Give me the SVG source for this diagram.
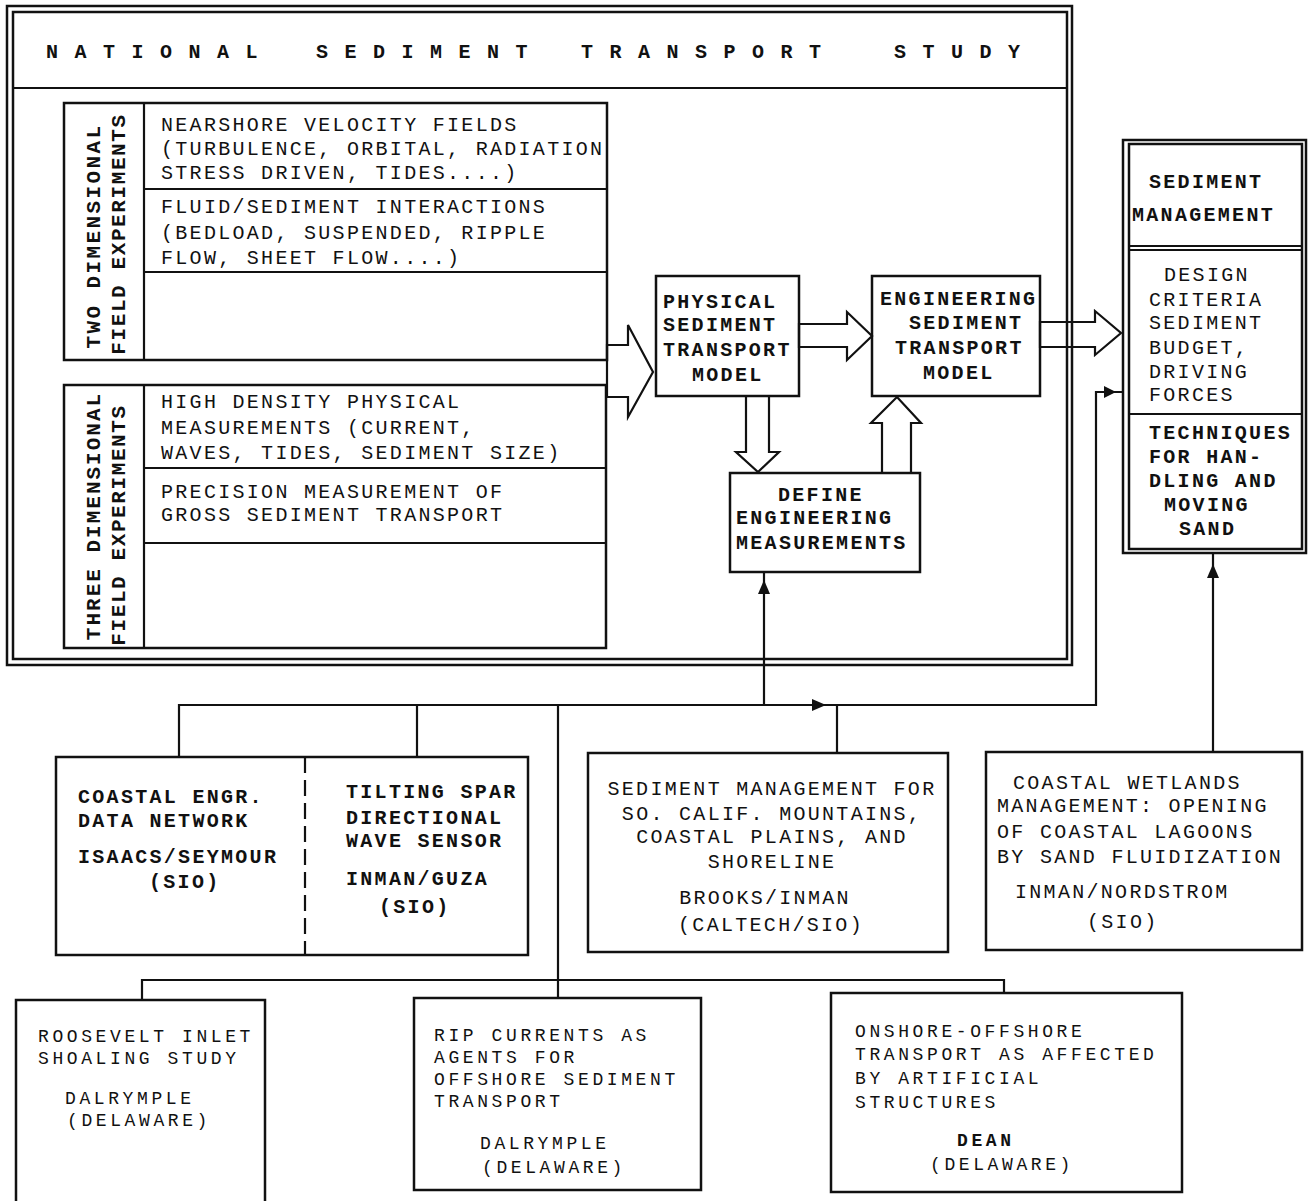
<svg xmlns="http://www.w3.org/2000/svg" width="1310" height="1201" viewBox="0 0 1310 1201">
<style>
text{font-family:"Liberation Mono","DejaVu Sans Mono",monospace;font-size:20px;letter-spacing:2.3px;fill:#111}
.b{font-weight:bold}
.s{font-size:18px;letter-spacing:3.6px}
.ttl{font-weight:bold;letter-spacing:16.5px}
.rot{font-weight:bold;font-size:21px;text-anchor:middle}
.m{text-anchor:middle}
.box{fill:none;stroke:#111;stroke-width:2.5}
.ln{fill:none;stroke:#111;stroke-width:2.2}
.con{fill:none;stroke:#111;stroke-width:2.2}
.harrow{fill:none;stroke:#111;stroke-width:2.2;stroke-linejoin:miter}
.head{fill:#111;stroke:none}
</style>
<rect width="1310" height="1201" fill="#fff"/>

<g id="frame">
<rect class="box" x="7" y="6" width="1065" height="659"/>
<rect class="box" x="13" y="12" width="1054" height="647"/>
<line class="ln" x1="13" y1="88" x2="1067" y2="88"/>
<text class="ttl" x="46" y="58">NATIONAL</text>
<text class="ttl" x="316" y="58">SEDIMENT</text>
<text class="ttl" x="581" y="58">TRANSPORT</text>
<text class="ttl" x="894" y="58">STUDY</text>
</g>

<g id="two-dim">
<rect class="box" x="64" y="103" width="543" height="257"/>
<line class="ln" x1="144" y1="103" x2="144" y2="360"/>
<line class="ln" x1="144" y1="189" x2="607" y2="189"/>
<line class="ln" x1="144" y1="272" x2="607" y2="272"/>
<text class="rot" style="letter-spacing:2.4px" transform="translate(100,236) rotate(-90)">TWO DIMENSIONAL</text>
<text class="rot" style="letter-spacing:1.6px" transform="translate(125,234) rotate(-90)">FIELD EXPERIMENTS</text>
<text x="161" y="131">NEARSHORE VELOCITY FIELDS</text>
<text x="161" y="155">(TURBULENCE, ORBITAL, RADIATION</text>
<text x="161" y="179">STRESS DRIVEN, TIDES....)</text>
<text x="161" y="213">FLUID/SEDIMENT INTERACTIONS</text>
<text x="161" y="239">(BEDLOAD, SUSPENDED, RIPPLE</text>
<text x="161" y="264">FLOW, SHEET FLOW....)</text>
</g>

<g id="three-dim">
<rect class="box" x="64" y="385" width="542" height="263"/>
<line class="ln" x1="144" y1="385" x2="144" y2="648"/>
<line class="ln" x1="144" y1="468" x2="606" y2="468"/>
<line class="ln" x1="144" y1="543" x2="606" y2="543"/>
<text class="rot" style="letter-spacing:2.0px" transform="translate(100,516) rotate(-90)">THREE DIMENSIONAL</text>
<text class="rot" style="letter-spacing:1.6px" transform="translate(125,525) rotate(-90)">FIELD EXPERIMENTS</text>
<text x="161" y="408">HIGH DENSITY PHYSICAL</text>
<text x="161" y="434">MEASUREMENTS (CURRENT,</text>
<text x="161" y="459">WAVES, TIDES, SEDIMENT SIZE)</text>
<text x="161" y="498">PRECISION MEASUREMENT OF</text>
<text x="161" y="521">GROSS SEDIMENT TRANSPORT</text>
</g>

<g id="physical-model">
<rect class="box" x="656" y="276" width="143" height="120"/>
<text class="b" x="663" y="308">PHYSICAL</text>
<text class="b" x="663" y="331">SEDIMENT</text>
<text class="b" x="663" y="356">TRANSPORT</text>
<text class="b" x="692" y="381">MODEL</text>
</g>

<g id="engineering-model">
<rect class="box" x="872" y="276" width="168" height="120"/>
<text class="b" x="880" y="305">ENGINEERING</text>
<text class="b" x="909" y="329">SEDIMENT</text>
<text class="b" x="895" y="354">TRANSPORT</text>
<text class="b" x="923" y="379">MODEL</text>
</g>

<g id="define-measurements">
<rect class="box" x="730" y="473" width="190" height="99"/>
<text class="b" x="778" y="501">DEFINE</text>
<text class="b" x="736" y="524">ENGINEERING</text>
<text class="b" x="736" y="549">MEASUREMENTS</text>
</g>

<g id="sediment-management">
<rect class="box" x="1123" y="140" width="183" height="413"/>
<rect class="box" x="1129" y="144" width="173" height="405"/>
<line class="ln" x1="1129" y1="246" x2="1302" y2="246"/>
<line class="ln" x1="1129" y1="250" x2="1302" y2="250"/>
<line class="ln" x1="1129" y1="414" x2="1302" y2="414"/>
<text class="b" x="1149" y="188">SEDIMENT</text>
<text class="b" x="1132" y="221">MANAGEMENT</text>
<text x="1164" y="281">DESIGN</text>
<text x="1149" y="306">CRITERIA</text>
<text x="1149" y="329">SEDIMENT</text>
<text x="1149" y="354">BUDGET,</text>
<text x="1149" y="378">DRIVING</text>
<text x="1149" y="401">FORCES</text>
<text class="b" x="1149" y="439">TECHNIQUES</text>
<text class="b" x="1149" y="463">FOR HAN-</text>
<text class="b" x="1149" y="487">DLING AND</text>
<text class="b" x="1164" y="511">MOVING</text>
<text class="b" x="1179" y="535">SAND</text>
</g>

<g id="coastal-engr">
<rect class="box" x="56" y="757" width="472" height="198"/>
<line class="ln" x1="305" y1="757" x2="305" y2="955" stroke-dasharray="16 7"/>
<text class="b" x="78" y="803">COASTAL ENGR.</text>
<text class="b" x="78" y="827">DATA NETWORK</text>
<text class="b" x="78" y="863">ISAACS/SEYMOUR</text>
<text class="b" x="149" y="888">(SIO)</text>
<text class="b" x="346" y="798">TILTING SPAR</text>
<text class="b" x="346" y="824">DIRECTIONAL</text>
<text class="b" x="346" y="847">WAVE SENSOR</text>
<text class="b" x="346" y="885">INMAN/GUZA</text>
<text class="b" x="379" y="913">(SIO)</text>
</g>

<g id="so-calif">
<rect class="box" x="588" y="753" width="360" height="199"/>
<text class="m" x="772" y="795">SEDIMENT MANAGEMENT FOR</text>
<text class="m" x="772" y="820">SO. CALIF. MOUNTAINS,</text>
<text class="m" x="772" y="843">COASTAL PLAINS, AND</text>
<text class="m" x="772" y="868">SHORELINE</text>
<text class="m" x="765" y="904">BROOKS/INMAN</text>
<text class="m" x="771" y="931">(CALTECH/SIO)</text>
</g>

<g id="coastal-wetlands">
<rect class="box" x="986" y="752" width="316" height="198"/>
<text x="1013" y="789">COASTAL WETLANDS</text>
<text x="997" y="812">MANAGEMENT: OPENING</text>
<text x="997" y="838">OF COASTAL LAGOONS</text>
<text x="997" y="863">BY SAND FLUIDIZATION</text>
<text x="1015" y="898">INMAN/NORDSTROM</text>
<text x="1087" y="928">(SIO)</text>
</g>

<g id="roosevelt">
<rect class="box" x="16" y="1000" width="249" height="210"/>
<text class="s" x="38" y="1042">ROOSEVELT INLET</text>
<text class="s" x="38" y="1064">SHOALING STUDY</text>
<text class="s" x="65" y="1104">DALRYMPLE</text>
<text class="s" x="67" y="1126">(DELAWARE)</text>
</g>

<g id="rip-currents">
<rect class="box" x="414" y="998" width="287" height="192"/>
<text class="s" x="434" y="1041">RIP CURRENTS AS</text>
<text class="s" x="434" y="1063">AGENTS FOR</text>
<text class="s" x="434" y="1085">OFFSHORE SEDIMENT</text>
<text class="s" x="434" y="1107">TRANSPORT</text>
<text class="s" x="480" y="1149">DALRYMPLE</text>
<text class="s" x="482" y="1173">(DELAWARE)</text>
</g>

<g id="onshore-offshore">
<rect class="box" x="831" y="993" width="351" height="199"/>
<text class="s" x="855" y="1037">ONSHORE-OFFSHORE</text>
<text class="s" x="855" y="1060">TRANSPORT AS AFFECTED</text>
<text class="s" x="855" y="1084">BY ARTIFICIAL</text>
<text class="s" x="855" y="1108">STRUCTURES</text>
<text class="s b" x="957" y="1146">DEAN</text>
<text class="s" x="930" y="1170">(DELAWARE)</text>
</g>

<g id="connectors">
<polygon class="harrow" points="607,345 628,345 628,325 653,372 628,417 628,397 607,397"/>
<polygon class="harrow" points="799,324 847,324 847,312 872,336 847,360 847,347 799,347"/>
<polygon class="harrow" points="1040,322 1095,322 1095,311 1121,333 1095,355 1095,347 1040,347"/>
<polygon class="harrow" points="746,396 746,452 736,452 758,472 779,452 769,452 769,396"/>
<polygon class="harrow" points="882,473 882,423 871,423 897,397 921,423 911,423 911,473"/>
<polyline class="con" points="179,757 179,705 1096,705 1096,392 1123,392"/>
<line class="con" x1="417" y1="705" x2="417" y2="757"/>
<line class="con" x1="558" y1="705" x2="558" y2="998"/>
<line class="con" x1="837" y1="705" x2="837" y2="753"/>
<line class="con" x1="764" y1="705" x2="764" y2="572"/>
<line class="con" x1="1213" y1="752" x2="1213" y2="553"/>
<polyline class="con" points="142,1000 142,980 1004,980 1004,993"/>
<polygon class="head" points="812,699 826,705 812,711"/>
<polygon class="head" points="1104,386 1116,392 1104,398"/>
<polygon class="head" points="758,594 764,580 770,594"/>
<polygon class="head" points="1207,578 1213,564 1219,578"/>
</g>
</svg>
